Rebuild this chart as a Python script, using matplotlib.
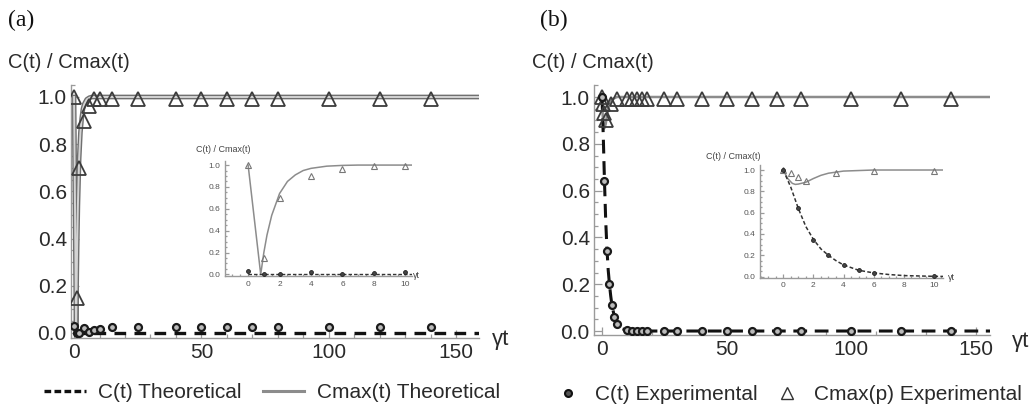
import matplotlib
matplotlib.use("Agg")
import matplotlib.pyplot as plt
from matplotlib.ticker import MultipleLocator
from matplotlib.lines import Line2D
import matplotlib.patheffects as pe

plt.rcParams['font.family'] = ['Liberation Sans', 'DejaVu Sans']

# ---------------- data ----------------
# Panel (a): theoretical curves
a_theo_cmax_x = [0, 0.8, 1.0, 1.2, 1.5, 2.0, 2.5, 3.0, 3.5, 4.0, 5.0, 6.0, 7.0, 10, 160]
a_theo_cmax_y = [1.0, 0.0, 0.20, 0.36, 0.54, 0.74, 0.85, 0.91, 0.95, 0.97, 0.99, 0.997, 1.0, 1.0, 1.0]
a_theo_c_x = [0, 160]
a_theo_c_y = [0.0, 0.0]
# Panel (a): experimental points
a_exp_x = [0, 1, 2, 4, 6, 8, 10, 15, 25, 40, 50, 60, 70, 80, 100, 120, 140]
a_exp_cmax = [1.0, 0.15, 0.70, 0.90, 0.96, 0.99, 0.99, 0.99, 0.99, 0.99, 0.99, 0.99, 0.99, 0.99, 0.99, 0.99, 0.99]
a_exp_c = [0.03, 0.0, 0.0, 0.02, 0.005, 0.012, 0.018, 0.025, 0.025, 0.025, 0.025, 0.025, 0.025, 0.025, 0.025, 0.025, 0.025]

# Panel (b): fitted curves
b_fit_c_x = [0, 0.5, 1, 1.5, 2, 2.5, 3, 3.5, 4, 5, 6, 7, 8, 10, 12, 160]
b_fit_c_y = [1.0, 0.84, 0.64, 0.47, 0.35, 0.26, 0.20, 0.15, 0.11, 0.06, 0.035, 0.02, 0.01, 0.003, 0.0, 0.0]
b_fit_cmax_x = [0, 0.3, 0.6, 0.8, 1.0, 1.5, 2.0, 2.5, 3.0, 4.0, 5.0, 6.0, 160]
b_fit_cmax_y = [1.0, 0.92, 0.875, 0.865, 0.868, 0.885, 0.92, 0.95, 0.97, 0.99, 0.995, 1.0, 1.0]
# Panel (b): experimental points
b_exp_c_x = [0, 1, 2, 3, 4, 5, 6, 10, 12, 14, 16, 18, 25, 30, 40, 50, 60, 70, 80, 100, 120, 140]
b_exp_c_y = [1.0, 0.64, 0.34, 0.20, 0.11, 0.06, 0.03, 0.003, 0.0, 0.0, 0.0, 0.0, 0.0, 0.0, 0.0, 0.0, 0.0, 0.0, 0.0, 0.0, 0.0, 0.0]
b_exp_cmax_x = [0, 0.5, 1, 1.5, 3.5, 6, 10, 12, 14, 16, 18, 25, 30, 40, 50, 60, 70, 80, 100, 120, 140]
b_exp_cmax_y = [1.0, 0.97, 0.93, 0.90, 0.97, 0.99, 0.99, 0.99, 0.99, 0.99, 0.99, 0.99, 0.99, 0.99, 0.99, 0.99, 0.99, 0.99, 0.99, 0.99, 0.99]

main_xticks = [0, 50, 100, 150]
main_yticks = [0.0, 0.2, 0.4, 0.6, 0.8, 1.0]
inset_xticks = [0, 2, 4, 6, 8, 10]

# ---------------- style ----------------
W, H = 1035, 412
fig = plt.figure(figsize=(W / 100, H / 100), dpi=100)

SPINE = '#9a9a9a'
TXT = '#2a2a2a'
GRAY = '#8c8c8c'


def fx(px):
    return px / W


def fy(py):
    return 1 - py / H


def style_axes(ax, xmaj, xmin, ymaj, ymin, lab_size, majlen, minlen, labcolor):
    for s in ('top', 'right'):
        ax.spines[s].set_visible(False)
    for s in ('left', 'bottom'):
        ax.spines[s].set_color(SPINE)
        ax.spines[s].set_linewidth(1.0)
    ax.xaxis.set_major_locator(MultipleLocator(xmaj))
    ax.xaxis.set_minor_locator(MultipleLocator(xmin))
    ax.yaxis.set_major_locator(MultipleLocator(ymaj))
    ax.yaxis.set_minor_locator(MultipleLocator(ymin))
    ax.tick_params(which='both', direction='in', color=SPINE, labelcolor=labcolor,
                   labelsize=lab_size, width=0.9)
    ax.tick_params(which='major', length=majlen)
    ax.tick_params(which='minor', length=minlen)
    ax.yaxis.set_major_formatter(plt.FuncFormatter(lambda v, p: f"{v:.1f}"))
    ax.xaxis.set_major_formatter(plt.FuncFormatter(lambda v, p: f"{v:.0f}"))
    ax.patch.set_alpha(0)


outlined = [pe.Stroke(linewidth=3.4, foreground='#707070'), pe.Stroke(linewidth=1.4, foreground='#d4d4d4')]

# ---------------- panel (a) main ----------------
axa = fig.add_axes([fx(71), fy(337.7), fx(408), (337.7 - 85.2) / H])
axa.set_xlim(-1.2, 159)
axa.set_ylim(-0.02, 1.05)
style_axes(axa, 50, 10, 0.2, 0.05, 15, 6, 3, TXT)
axa.tick_params(axis='y', pad=3)
axa.plot(a_theo_cmax_x, a_theo_cmax_y, color='#bdbdbd', lw=1.4, path_effects=outlined, zorder=2)
axa.plot(a_theo_c_x, a_theo_c_y, color='#111111', lw=2.4, ls=(0, (3.5, 2.5)), zorder=3)
axa.plot(a_exp_x, a_exp_cmax, ls='none', marker='^', ms=9.5, mfc='none', mec='#3c3c3c', mew=1.3, zorder=4)
axa.plot(a_exp_x, a_exp_c, ls='none', marker='o', ms=5, mfc='#bbbbbb', mec='#1a1a1a', mew=1.6, zorder=4)
axa.set_xticks(main_xticks)
axa.set_yticks(main_yticks)

# ---------------- panel (a) inset ----------------
axai = fig.add_axes([fx(225), fy(276), fx(186.7), 115.3 / H])
axai.set_xlim(-1.47, 10.4)
axai.set_ylim(-0.015, 1.04)
style_axes(axai, 2, 0.5, 0.2, 0.05, 6, 3, 1.5, '#555555')
axai.plot(a_theo_cmax_x, a_theo_cmax_y, color=GRAY, lw=1.1, zorder=2)
axai.plot(a_theo_c_x, a_theo_c_y, color='#333333', lw=1.0, ls=(0, (2.5, 1.5)), zorder=3)
axai.plot(a_exp_x, a_exp_cmax, ls='none', marker='^', ms=4, mfc='none', mec='#777777', mew=0.8, zorder=4)
axai.plot(a_exp_x, a_exp_c, ls='none', marker='o', ms=2.8, mfc='#444444', mec='#222222', mew=0.6, zorder=4)
axai.set_xticks(inset_xticks)
fig.text(fx(196), fy(149), 'C(t) / Cmax(t)', fontsize=6.5, color='#444444', va='center', ha='left')
fig.text(fx(413), fy(276), 'γt', fontsize=6.5, color='#444444', va='center', ha='left')

# ---------------- panel (b) main ----------------
axb = fig.add_axes([fx(594), fy(335), fx(396), (335 - 85.3) / H])
axb.set_xlim(-3.2, 155.6)
axb.set_ylim(-0.017, 1.05)
style_axes(axb, 50, 10, 0.2, 0.05, 15, 6, 3, TXT)
axb.tick_params(axis='y', pad=3)
axb.plot(b_fit_cmax_x, b_fit_cmax_y, color=GRAY, lw=1.8, zorder=2)
axb.plot(b_fit_c_x, b_fit_c_y, color='#111111', lw=2.2, ls=(0, (4.5, 2.5)), zorder=3)
axb.plot(b_exp_cmax_x, b_exp_cmax_y, ls='none', marker='^', ms=9.5, mfc='none', mec='#3c3c3c', mew=1.3, zorder=4)
axb.plot(b_exp_c_x, b_exp_c_y, ls='none', marker='o', ms=5, mfc='#bbbbbb', mec='#1a1a1a', mew=1.6, zorder=4)
axb.set_xticks(main_xticks)
axb.set_yticks(main_yticks)

# ---------------- panel (b) inset ----------------
axbi = fig.add_axes([fx(760), fy(277.5), fx(183), 112.5 / H])
axbi.set_xlim(-1.54, 10.6)
axbi.set_ylim(-0.008, 1.047)
style_axes(axbi, 2, 0.5, 0.2, 0.05, 6, 3, 1.5, '#555555')
axbi.plot(b_fit_cmax_x, b_fit_cmax_y, color=GRAY, lw=1.1, zorder=2)
axbi.plot(b_fit_c_x, b_fit_c_y, color='#333333', lw=1.1, ls=(0, (2.5, 1.5)), zorder=3)
axbi.plot(b_exp_cmax_x, b_exp_cmax_y, ls='none', marker='^', ms=4, mfc='none', mec='#777777', mew=0.8, zorder=4)
axbi.plot(b_exp_c_x, b_exp_c_y, ls='none', marker='o', ms=2.8, mfc='#444444', mec='#222222', mew=0.6, zorder=4)
axbi.set_xticks(inset_xticks)
fig.text(fx(706), fy(156), 'C(t) / Cmax(t)', fontsize=6.5, color='#444444', va='center', ha='left')
fig.text(fx(948), fy(277.7), 'γt', fontsize=6.5, color='#444444', va='center', ha='left')

# ---------------- labels ----------------
for x0, lab in ((8, '(a)'), (540, '(b)')):
    fig.text(fx(x0), fy(20), lab, fontsize=17, family='Liberation Serif', color='#111111',
             va='center', ha='left')
for x0 in (8, 532):
    fig.text(fx(x0), fy(63), 'C(t) / Cmax(t)', fontsize=14.5, color=TXT, va='center', ha='left')
fig.text(fx(492), fy(340), 'γt', fontsize=16, color=TXT, va='center', ha='left')
fig.text(fx(1012), fy(342), 'γt', fontsize=16, color=TXT, va='center', ha='left')

# ---------------- legends ----------------
ha = [Line2D([], [], color='#111111', lw=2.4, ls=(0, (2.0, 1.0))),
      Line2D([], [], color=GRAY, lw=2.2)]
fig.legend(ha, ['C(t) Theoretical', 'Cmax(t) Theoretical'], loc='center',
           bbox_to_anchor=(fx(272), fy(393)), ncol=2, frameon=False, fontsize=15,
           handlelength=2.0, handletextpad=0.6, columnspacing=1.0, labelcolor=TXT)
hb = [Line2D([], [], ls='none', marker='o', ms=5, mfc='#555555', mec='#111111', mew=1.5),
      Line2D([], [], ls='none', marker='^', ms=8, mfc='none', mec='#333333', mew=1.0)]
fig.legend(hb, ['C(t) Experimental', 'Cmax(p) Experimental'], loc='center',
           bbox_to_anchor=(fx(790), fy(395)), ncol=2, frameon=False, fontsize=15,
           handlelength=1.0, handletextpad=0.8, columnspacing=0.9, labelcolor=TXT)

fig.savefig('out.png', dpi=100)
